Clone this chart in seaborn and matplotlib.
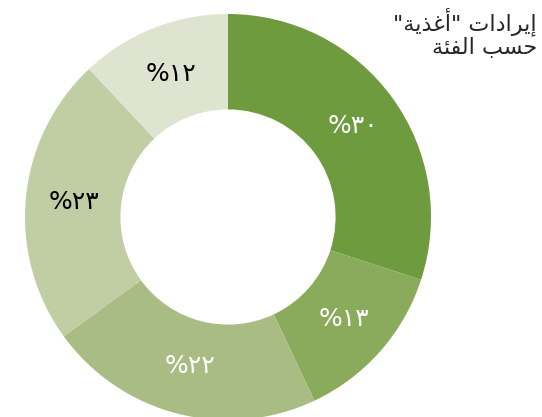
import seaborn as sns
import matplotlib.pyplot as plt

sns.set_style("white")
plt.rcParams['font.family'] = ['DejaVu Sans']

# data (clockwise from 12 o'clock)
values = [30, 13, 22, 23, 12]
colors = ["#6e9b3d", "#8bab5c", "#a8bc83", "#c1cea3", "#dee4cf"]
label_colors = ["white", "white", "white", "black", "black"]
# title, pre-shaped Arabic in visual order (matplotlib has no bidi)
title_lines = ['"\ufe94\ufef3\ufeac\ufecf\ufe83" \ufe95\ufe8d\ufea9\ufe8d\ufeae\ufef3\ufe87',
               '\ufe94\ufe8c\ufed4\ufedf\ufe8d \ufe90\ufeb4\ufea3']

arabic_digits = str.maketrans("0123456789", "٠١٢٣٤٥٦٧٨٩")


def pct_label(p):
    return "%" + str(int(round(p))).translate(arabic_digits)


fig = plt.figure(figsize=(5.42, 4.17), dpi=100)
ax = fig.add_axes([25 / 542, -3 / 417, 406 / 542, 406 / 417])

wedges, texts, autotexts = ax.pie(
    values, colors=colors, startangle=90, counterclock=False,
    radius=1, autopct=pct_label, pctdistance=0.76,
    wedgeprops=dict(width=0.47, edgecolor="none", linewidth=0),
    textprops=dict(fontsize=18),
)
for t, c in zip(autotexts, label_colors):
    t.set_color(c)
ax.set_xlim(-1, 1)
ax.set_ylim(-1, 1)
ax.set_aspect("equal")
ax.axis("off")

fig.text(537 / 542, 1 - 7 / 417, "\n".join(title_lines), ha="right", va="top",
         fontsize=16, linespacing=1.05, multialignment="right")

fig.savefig("out.png", dpi=100)
